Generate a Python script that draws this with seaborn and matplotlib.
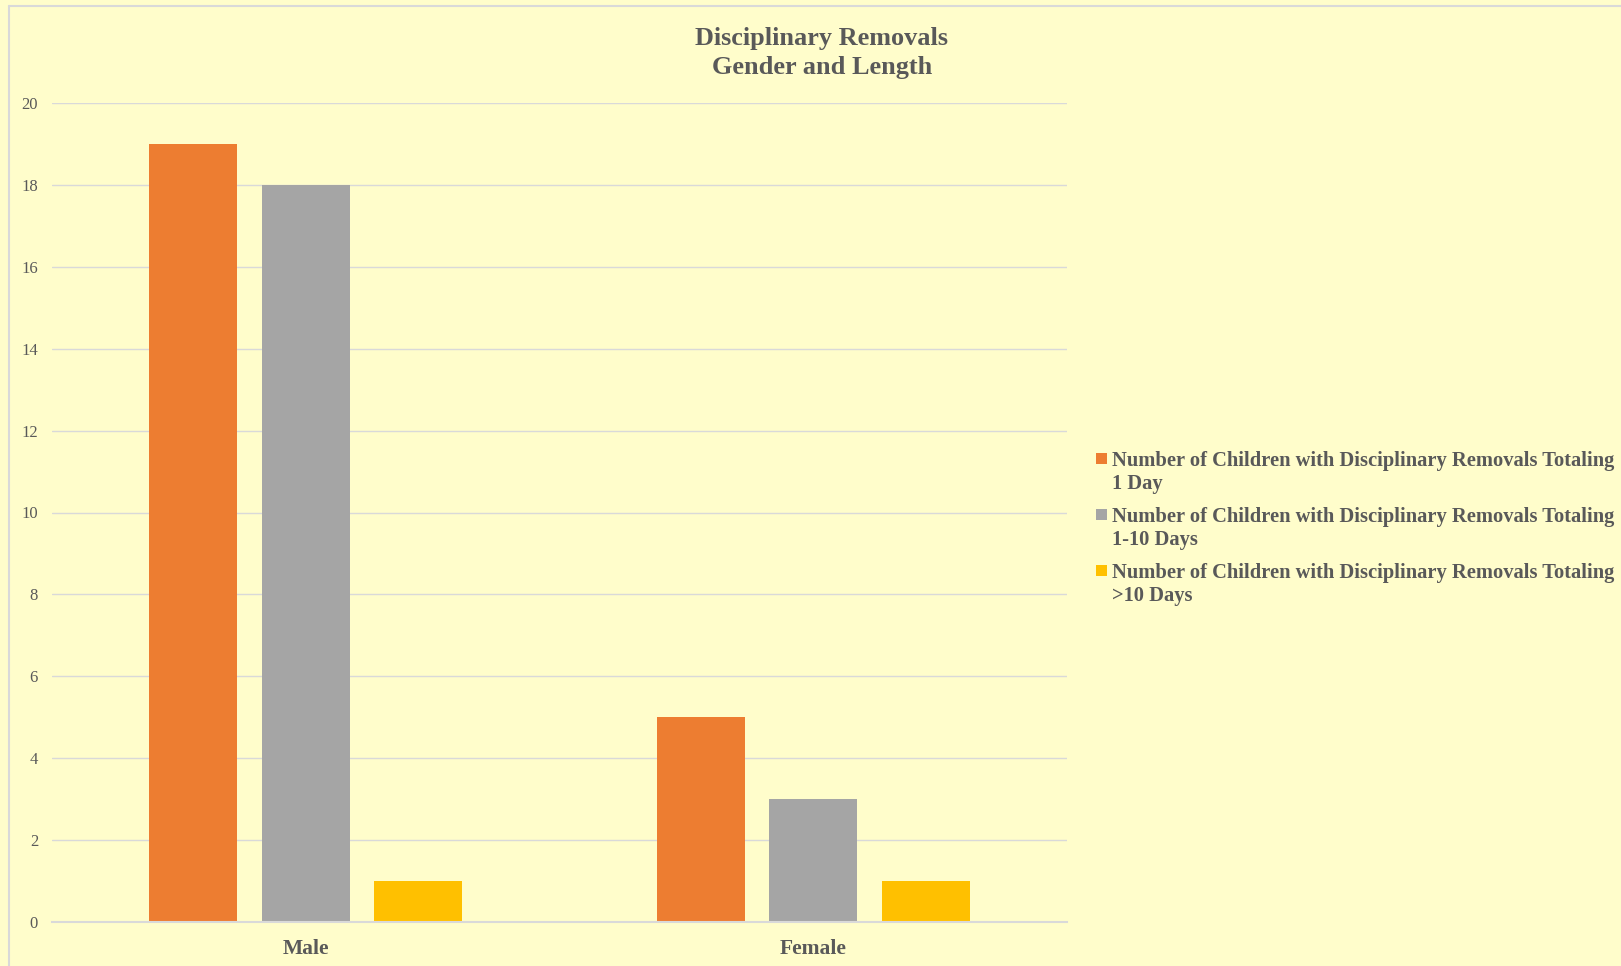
import matplotlib
matplotlib.use("Agg")
import matplotlib.pyplot as plt
import pandas as pd
import seaborn as sns
from matplotlib.patches import Rectangle
from matplotlib.lines import Line2D

# Data
genders = ["Male", "Female"]
series = [
    "Number of Children with Disciplinary Removals Totaling\n1 Day",
    "Number of Children with Disciplinary Removals Totaling\n1-10 Days",
    "Number of Children with Disciplinary Removals Totaling\n>10 Days",
]
one_day = [19, 5]
one_to_ten = [18, 3]
over_ten = [1, 1]
colors = ["#ED7D31", "#A5A5A5", "#FFC000"]

df = pd.DataFrame({
    "gender": genders * 3,
    "series": [series[0]] * 2 + [series[1]] * 2 + [series[2]] * 2,
    "value": one_day + one_to_ten + over_ten,
})

W, H = 1621, 966
bg = "#FFFDCB"
txt = "#595959"
serif = ["Liberation Serif", "DejaVu Serif"]

sns.set_style("white")
plt.rcParams["font.family"] = serif

fig = plt.figure(figsize=(W / 100, H / 100), dpi=100, facecolor=bg)
ax = fig.add_axes([52 / W, 1 - 922 / H, (1067 - 52) / W, (922 - 103) / H])
ax.set_facecolor(bg)

sns.barplot(data=df, x="gender", y="value", hue="series", palette=colors,
            width=0.666, gap=0.219, saturation=1, ax=ax, legend=False,
            edgecolor="none", linewidth=0)

ax.set_ylim(0, 20)
ax.set_xlim(-0.5, 1.5)
ax.set_yticks(range(0, 21, 2))
ax.yaxis.grid(True, color="#D9D9D9", linewidth=1)
ax.set_axisbelow(True)
for s in ["top", "right", "left"]:
    ax.spines[s].set_visible(False)
ax.spines["bottom"].set_color("#D9D9D9")
ax.spines["bottom"].set_linewidth(1.5)
ax.set_xlabel("")
ax.set_ylabel("")
ax.tick_params(axis="y", length=0, pad=10, labelsize=12, labelcolor=txt)
ax.tick_params(axis="x", length=0, pad=12, labelsize=15.5, labelcolor=txt)
for lab in ax.get_xticklabels():
    lab.set_fontweight("bold")

# Title (va="baseline" pins the last line)
fig.text(822 / W, 1 - 74 / H, "Disciplinary Removals\nGender and Length",
         ha="center", va="baseline", fontsize=18.9, fontweight="bold", color=txt,
         linespacing=1.33)

# Legend (marker beside the first line of each label, as in Excel)
for i, (label, c) in enumerate(zip(series, colors)):
    top = 453 + 56 * i
    fig.add_artist(Rectangle((1096 / W, 1 - (top + 11) / H), 11 / W, 11 / H,
                             transform=fig.transFigure, facecolor=c, edgecolor="none"))
    fig.text(1112 / W, 1 - (489 + 56 * i) / H, label, ha="left", va="baseline",
             fontsize=14.8, fontweight="bold", color=txt, linespacing=1.2)

# Chart area border
fig.add_artist(Line2D([9 / W, 9 / W], [0, 1 - 6 / H], color="#D9D9D9", linewidth=1.5))
fig.add_artist(Line2D([9 / W, 1], [1 - 6 / H, 1 - 6 / H], color="#D9D9D9", linewidth=1.5))

fig.savefig("out.png", dpi=100, facecolor=bg)
